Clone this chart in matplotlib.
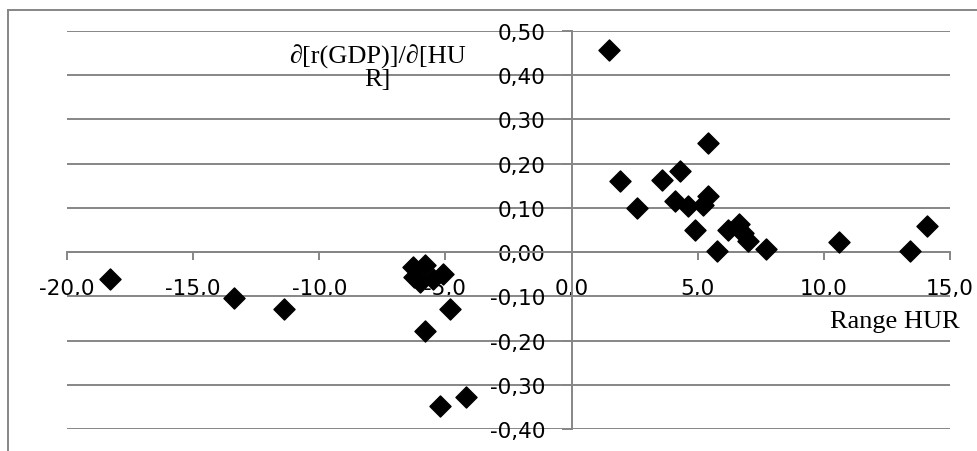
import matplotlib.pyplot as plt
from matplotlib.lines import Line2D
from matplotlib.ticker import FuncFormatter

# Range HUR (x) and d[r(GDP)]/d[HUR] (y)
range_hur = [-18.3, -13.4, -11.4, -6.3, -5.8, -6.25, -6.0, -5.5, -5.1, -4.8, -5.8, -5.2, -4.2,
             1.5, 1.9, 2.6, 3.6, 4.3, 4.1, 4.6, 5.2, 5.4, 5.4, 4.9, 5.75, 6.2, 6.65, 6.8, 7.0,
             7.7, 10.6, 13.4, 14.1]
dgdp_dhur = [-0.061, -0.104, -0.129, -0.033, -0.029, -0.057, -0.067, -0.061, -0.050, -0.129,
             -0.178, -0.348, -0.327,
             0.457, 0.161, 0.099, 0.163, 0.184, 0.116, 0.105, 0.107, 0.126, 0.247, 0.050, 0.003,
             0.050, 0.063, 0.044, 0.026, 0.007, 0.023, 0.003, 0.060]

x_ticks = [-20, -15, -10, -5, 0, 5, 10, 15]
y_ticks = [-0.4, -0.3, -0.2, -0.1, 0.0, 0.1, 0.2, 0.3, 0.4, 0.5]

grey = '#868686'

fig = plt.figure(figsize=(9.78, 4.52), dpi=100)
ax = fig.add_axes([67 / 978, 22 / 452, 883 / 978, 398 / 452])

ax.scatter(range_hur, dgdp_dhur, marker='D', s=115, color='black', zorder=3, clip_on=False)

ax.set_xlim(-20, 15)
ax.set_ylim(-0.4, 0.5)
ax.set_xticks(x_ticks)
ax.set_yticks(y_ticks)
ax.xaxis.set_major_formatter(FuncFormatter(lambda v, p: f'{v:.1f}'.replace('.', ',')))
ax.yaxis.set_major_formatter(FuncFormatter(lambda v, p: f'{v:.2f}'.replace('.', ',')))

ax.spines['left'].set_position(('data', 0))
ax.spines['bottom'].set_position(('data', 0))
ax.spines['right'].set_visible(False)
ax.spines['top'].set_visible(False)
for s in ['left', 'bottom']:
    ax.spines[s].set_color(grey)
    ax.spines[s].set_linewidth(1.4)

ax.grid(axis='y', color=grey, linewidth=1.4)
ax.set_axisbelow(True)
ax.tick_params(axis='x', direction='out', length=6, width=1.4, color=grey, pad=13,
               labelsize=15.5, labelcolor='black')
ax.tick_params(axis='y', direction='out', length=7, width=1.4, color=grey, pad=12,
               labelsize=15.5, labelcolor='black')

serif = ['Liberation Serif', 'DejaVu Serif']
ax.text(0.352, 0.91, '\u2202[r(GDP)]/\u2202[HU\nR]', transform=ax.transAxes, ha='center',
        va='center', fontsize=19, family=serif, linespacing=1.05)
ax.text(0.937, 0.271, 'Range HUR', transform=ax.transAxes, ha='center', va='center',
        fontsize=19, family=serif)

# outer chart border (left and top)
fig.add_artist(Line2D([8 / 978, 8 / 978], [0, 1 - 11 / 452], transform=fig.transFigure,
                      color=grey, linewidth=1.4))
fig.add_artist(Line2D([8 / 978, 1], [1 - 11 / 452, 1 - 11 / 452], transform=fig.transFigure,
                      color=grey, linewidth=1.4))

fig.savefig('out.png', dpi=100)
